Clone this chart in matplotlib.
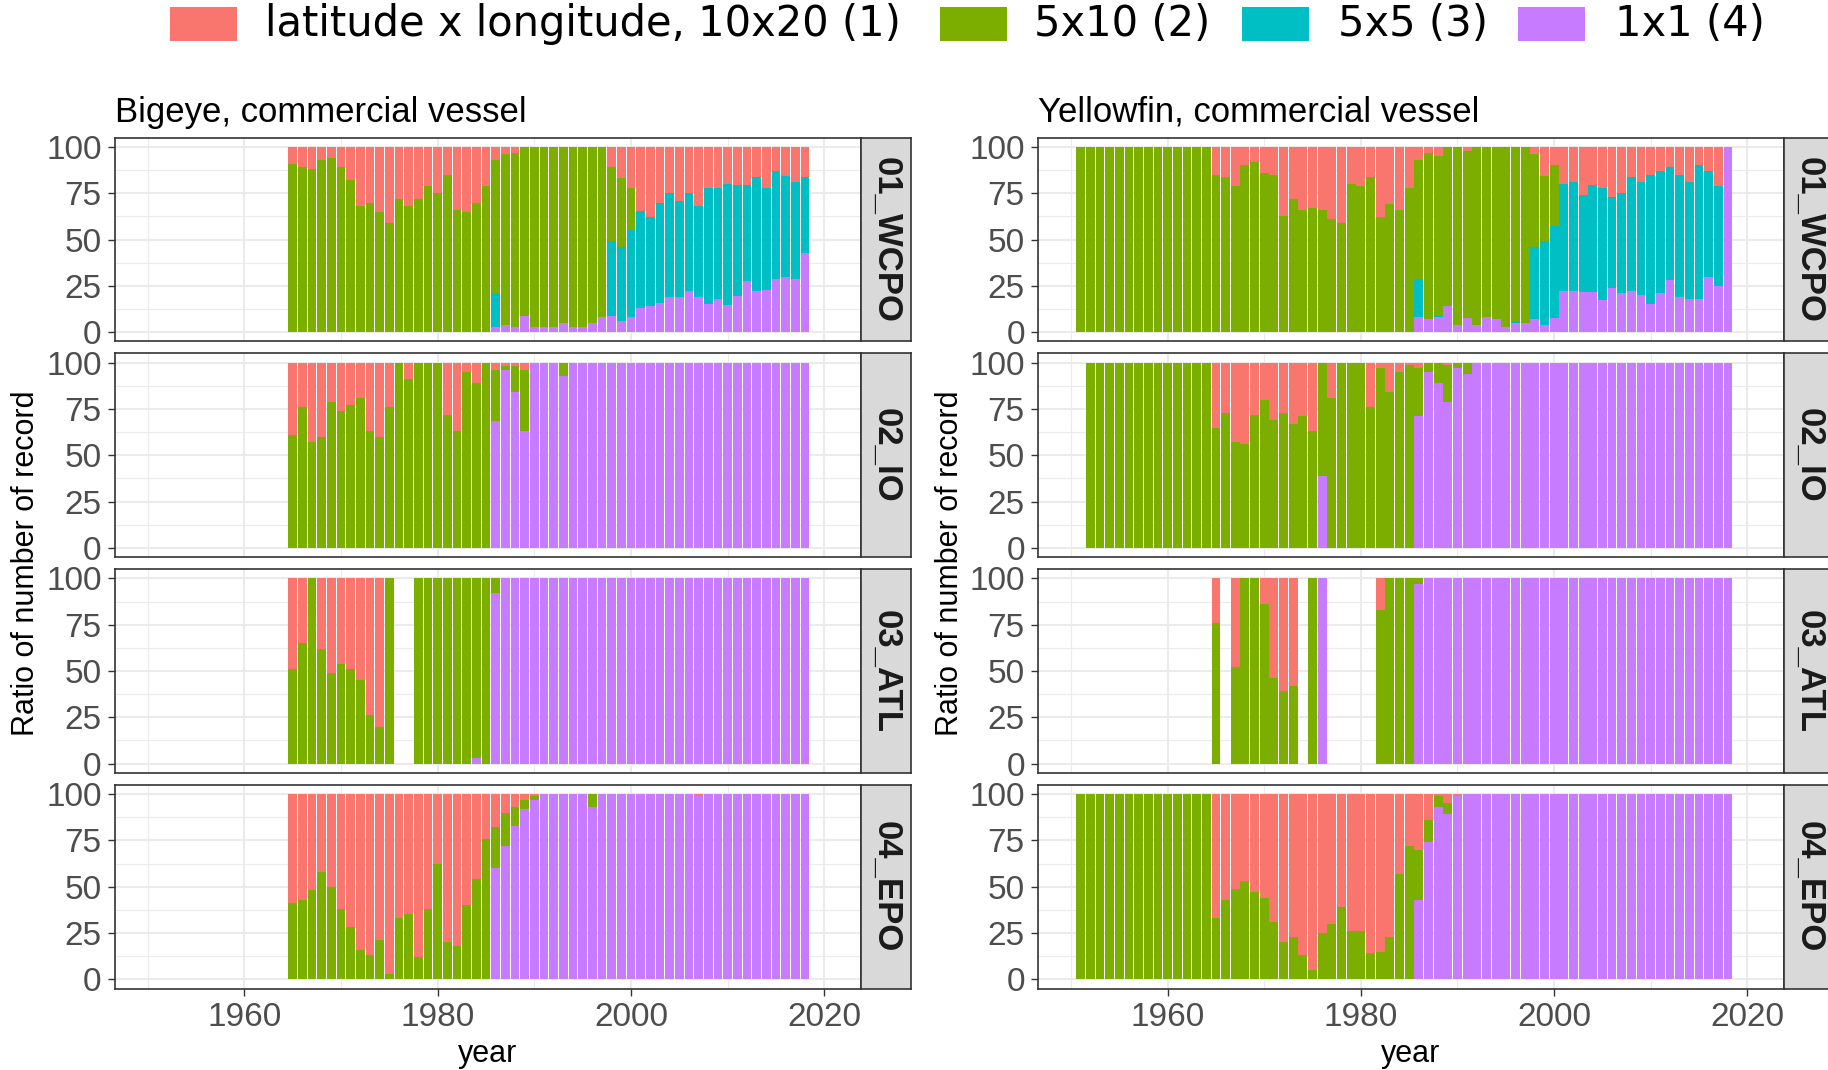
import numpy as np
import matplotlib
matplotlib.use('Agg')
import matplotlib.pyplot as plt
from matplotlib.patches import Rectangle

plt.rcParams['font.family'] = ['Liberation Sans', 'DejaVu Sans']

# ---------------- data ----------------
categories = ['latitude x longitude, 10x20 (1)', '5x10 (2)', '5x5 (3)', '1x1 (4)']
colors = ['#F8766D', '#7CAE00', '#00BFC4', '#C77CFF']
regions = ['01_WCPO', '02_IO', '03_ATL', '04_EPO']
x_ticks = [1960, 1980, 2000, 2020]
x_minor = [1950, 1970, 1990, 2010]
y_ticks = [0, 25, 50, 75, 100]
titles = ['Bigeye, commercial vessel', 'Yellowfin, commercial vessel']

years_be = list(range(1965, 2019))
years_yf = list(range(1951, 2019))

# Bigeye (1965-2018), groups: 65-72 | 73-85 | 86-95 | 96-07 | 08-17 | 18
be_wcpo_red = [9,11,12,7,6,11,18,32] + [30,35,41,28,32,28,21,25,15,34,35,30,21] + [7,4,3,0,0,0,0,0,0,0] + [0,0,11,17,22,35,38,30,25,29,25,32] + [22,22,20,21,21,16,22,13,16,19] + [16]
be_wcpo_green = [91,89,88,93,94,89,82,68] + [70,65,59,72,68,72,79,75,85,66,65,70,79] + [72,92,94,91,97,97,97,95,97,97] + [95,92,40,37,23,0,0,0,0,0,0,0] + [0,0,0,0,0,0,0,0,0,0] + [0]
be_wcpo_cyan = [0]*8 + [0]*13 + [18,0,0,0,0,0,0,0,0,0] + [0,0,40,40,47,53,48,54,56,52,53,49] + [62,60,66,60,52,61,55,58,55,52] + [41]
be_wcpo_purple = [0]*8 + [0]*13 + [3,4,3,9,3,3,3,5,3,3] + [5,8,9,6,8,13,14,16,19,19,22,19] + [15,18,15,20,28,22,23,29,30,29] + [43]

be_io_red = [39,24,43,40,21,26,23,19] + [37,40,24,0,9,0,0,0,28,37,5,11,0] + [4,2,2,4,0,0,0,0,0,0] + [0]*12 + [0]*10 + [0]
be_io_green = [61,76,57,60,79,74,77,81] + [63,60,76,100,91,100,100,100,72,63,95,89,100] + [28,2,14,33,0,0,0,7,0,0] + [0]*12 + [0]*10 + [0]
be_io_cyan = [0]*54
be_io_purple = [0]*8 + [0]*13 + [69,96,84,63,100,100,100,93,100,100] + [100]*12 + [100]*10 + [100]

be_atl_red = [49,35,0,38,51,46,49,55] + [74,80,0,0,0,0,0,0,0,0,0,0,0] + [0]*10 + [0]*12 + [0]*10 + [0]
be_atl_green = [51,65,100,62,49,54,51,45] + [26,20,100,0,0,100,100,100,100,100,100,97,100] + [8,0,0,0,0,0,0,0,0,0] + [0]*12 + [0]*10 + [0]
be_atl_cyan = [0]*54
be_atl_purple = [0]*8 + [0,0,0,0,0,0,0,0,0,0,0,3,0] + [92,100,100,100,100,100,100,100,100,100] + [100]*12 + [100]*10 + [100]

be_epo_red = [59,57,52,42,50,62,72,84] + [87,79,97,67,65,88,62,38,80,82,60,46,24] + [18,10,7,3,1,0,0,0,0,0] + [0,0,0,0,0,0,0,0,0,0,0,1] + [0]*10 + [0]
be_epo_green = [41,43,48,58,50,38,28,16] + [13,21,3,33,35,12,38,62,20,18,40,54,76] + [22,18,10,5,2,0,0,0,0,0] + [7,0,0,0,0,0,0,0,0,0,0,0] + [0]*10 + [0]
be_epo_cyan = [0]*54
be_epo_purple = [0]*8 + [0]*13 + [60,72,83,92,97,100,100,100,100,100] + [93,100,100,100,100,100,100,100,100,100,100,99] + [100]*10 + [100]

# Yellowfin (1951-2018), groups: 51-64 | 65-72 | 73-85 | 86-95 | 96-07 | 08-17 | 18
yf_wcpo_red = [0]*14 + [15,16,21,10,8,14,15,37] + [28,34,33,34,39,41,20,21,16,38,31,34,22] + [7,3,5,0,0,2,0,0,0,0] + [0,0,4,16,10,20,19,26,21,22,27,25] + [16,19,15,13,11,15,19,10,13,21] + [0]
yf_wcpo_green = [100]*14 + [85,84,79,90,92,86,85,63] + [72,66,67,66,61,59,80,79,84,62,69,66,78] + [64,90,86,86,96,91,96,92,93,97] + [94,95,50,35,33,0,0,0,0,0,0,0] + [0]*10 + [0]
yf_wcpo_cyan = [0]*14 + [0]*8 + [0]*13 + [21,0,1,0,0,0,0,0,0,0] + [1,0,39,46,50,58,59,53,58,60,49,54] + [61,61,70,66,61,66,63,72,57,54] + [0]
yf_wcpo_purple = [0]*14 + [0]*8 + [0]*13 + [8,7,8,14,4,8,4,8,7,3] + [5,5,7,4,8,22,22,22,22,17,24,21] + [22,20,15,21,28,19,18,18,30,25] + [100]

yf_io_red = [0]*14 + [35,27,43,44,28,20,31,27] + [33,29,37,0,19,0,0,0,24,3,16,5,1] + [3,0,0,1,0,0,0,0,0,0] + [0]*12 + [0]*10 + [0]
yf_io_green = [0] + [100]*13 + [65,73,57,56,72,80,69,73] + [67,71,63,61,81,100,100,100,76,97,84,95,99] + [26,5,11,20,3,6,0,0,0,0] + [0]*12 + [0]*10 + [0]
yf_io_cyan = [0]*68
yf_io_purple = [0]*14 + [0]*8 + [0,0,0,39,0,0,0,0,0,0,0,0,0] + [71,95,89,79,97,94,100,100,100,100] + [100]*12 + [100]*10 + [100]

yf_atl_red = [0]*14 + [24,0,48,0,0,14,54,61] + [58,0,0,0,0,0,0,0,0,17,0,0,0] + [0]*10 + [0]*12 + [0]*10 + [0]
yf_atl_green = [0]*14 + [76,0,52,100,100,86,46,39] + [42,0,100,0,0,0,0,0,0,83,100,100,100] + [3,0,0,0,0,0,0,0,0,0] + [0]*12 + [0]*10 + [0]
yf_atl_cyan = [0]*68
yf_atl_purple = [0]*14 + [0]*8 + [0,0,0,100,0,0,0,0,0,0,0,0,0] + [97,100,100,100,100,100,100,100,100,100] + [100]*12 + [100]*10 + [100]

yf_epo_red = [0]*14 + [67,57,51,47,53,56,69,80] + [77,87,95,75,70,61,74,74,86,85,77,43,28] + [30,14,1,5,1,0,0,0,0,0] + [0]*12 + [0]*10 + [0]
yf_epo_green = [100]*14 + [33,43,49,53,47,44,31,20] + [23,13,5,25,30,39,26,26,14,15,23,57,72] + [27,12,6,6,0,0,0,0,0,0] + [0]*12 + [0]*10 + [0]
yf_epo_cyan = [0]*68
yf_epo_purple = [0]*14 + [0]*8 + [0]*13 + [43,74,93,89,99,100,100,100,100,100] + [100]*12 + [100]*10 + [100]

bigeye = {
    '01_WCPO': [be_wcpo_red, be_wcpo_green, be_wcpo_cyan, be_wcpo_purple],
    '02_IO': [be_io_red, be_io_green, be_io_cyan, be_io_purple],
    '03_ATL': [be_atl_red, be_atl_green, be_atl_cyan, be_atl_purple],
    '04_EPO': [be_epo_red, be_epo_green, be_epo_cyan, be_epo_purple],
}
yellowfin = {
    '01_WCPO': [yf_wcpo_red, yf_wcpo_green, yf_wcpo_cyan, yf_wcpo_purple],
    '02_IO': [yf_io_red, yf_io_green, yf_io_cyan, yf_io_purple],
    '03_ATL': [yf_atl_red, yf_atl_green, yf_atl_cyan, yf_atl_purple],
    '04_EPO': [yf_epo_red, yf_epo_green, yf_epo_cyan, yf_epo_purple],
}

# ---------------- layout ----------------
W, H = 1828, 1070
fig = plt.figure(figsize=(W / 100, H / 100), dpi=100)
fig.patch.set_facecolor('white')

panel_w = 746.2
panel_h = 203.8
strip_w = 49.7
tops = [137.7, 353.4, 569.1, 784.8]
panel_x = [114.8, 1038.0]


def draw_panel(x0, years, data, title):
    years = np.array(years)
    for i, reg in enumerate(regions):
        top = tops[i]
        rect = [x0 / W, 1 - (top + panel_h) / H, panel_w / W, panel_h / H]
        ax = fig.add_axes(rect)
        vals = np.array(data[reg], dtype=float)
        tot = vals.sum(axis=0)
        pct = np.where(tot > 0, vals / np.where(tot > 0, tot, 1) * 100, 0)
        bottom = np.zeros(len(years))
        for k in [3, 2, 1, 0]:
            ax.bar(years, pct[k], bottom=bottom, width=0.9, color=colors[k],
                   linewidth=0, zorder=2)
            bottom += pct[k]
        ax.set_xlim(1946.6, 2023.8)
        ax.set_ylim(-5, 105)
        ax.set_xticks(x_ticks)
        ax.set_xticks(x_minor, minor=True)
        ax.set_yticks(y_ticks)
        ax.set_yticks([12.5, 37.5, 62.5, 87.5], minor=True)
        ax.grid(which='major', color='#EBEBEB', lw=1.5, zorder=0)
        ax.grid(which='minor', color='#EBEBEB', lw=0.8, zorder=0)
        ax.set_axisbelow(True)
        for s in ax.spines.values():
            s.set_color('#333333')
            s.set_linewidth(1.2)
        ax.tick_params(which='major', length=5, width=1.0, color='#333333',
                       labelsize=24, labelcolor='#4D4D4D', pad=4.5)
        ax.tick_params(which='minor', length=0)
        if i < 3:
            ax.tick_params(axis='x', which='both', length=0, labelbottom=False)
        # strip
        sx = x0 + panel_w
        sax = fig.add_axes([sx / W, 1 - (top + panel_h) / H, strip_w / W, panel_h / H])
        sax.set_facecolor('#D9D9D9')
        sax.set_xticks([])
        sax.set_yticks([])
        for s in sax.spines.values():
            s.set_color('#333333')
            s.set_linewidth(1.2)
        sax.text(0.5, 0.5, reg, rotation=-90, ha='center', va='center',
                 fontsize=25, fontweight='bold', color='#1A1A1A',
                 transform=sax.transAxes)
    fig.text(x0 / W, 1 - 122 / H, title, ha='left', va='baseline',
             fontsize=25, color='black')
    fig.text((x0 + panel_w / 2) / W, 1 - 1054 / H, 'year', ha='center',
             va='center', fontsize=22, color='black')


draw_panel(panel_x[0], years_be, bigeye, titles[0])
draw_panel(panel_x[1], years_yf, yellowfin, titles[1])

fig.text(25.6 / W, 1 - 563 / H, 'Ratio of number of record', rotation=90,
         ha='center', va='center', fontsize=22, color='black')
fig.text(950 / W, 1 - 563 / H, 'Ratio of number of record', rotation=90,
         ha='center', va='center', fontsize=22, color='black')

# ---------------- legend ----------------
key_x = [170, 940, 1242, 1518]
text_x = [265, 1034, 1338, 1615]
for kx, tx, lab, c in zip(key_x, text_x, categories, colors):
    fig.patches.append(Rectangle((kx / W, 1 - 41 / H), 67 / W, 34 / H,
                                 transform=fig.transFigure, facecolor=c,
                                 edgecolor='none'))
    fig.text(tx / W, 1 - 24 / H, lab, ha='left', va='center', fontsize=30,
             family='DejaVu Sans', color='black')

fig.savefig('out.png', dpi=100, facecolor='white')
